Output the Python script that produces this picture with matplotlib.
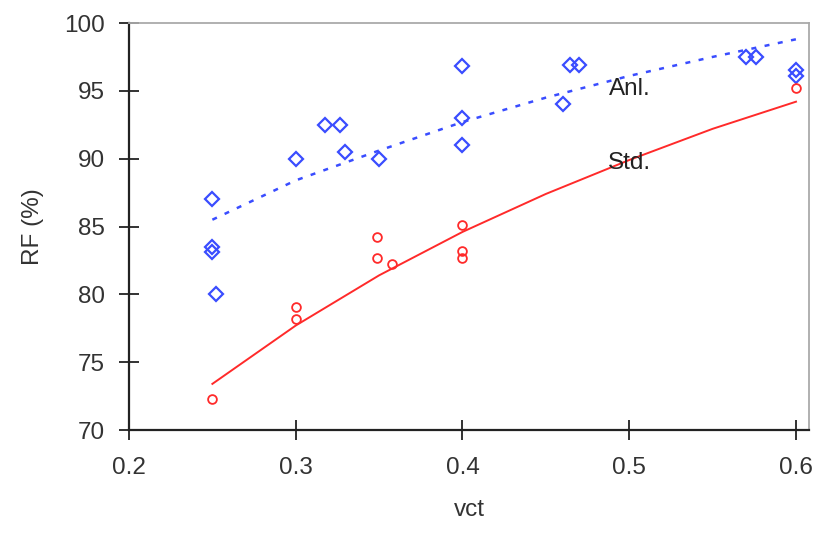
import matplotlib
matplotlib.use("Agg")
import matplotlib.pyplot as plt
from matplotlib import font_manager

# Anl. (blue diamonds)
anl_x = [0.25, 0.25, 0.25, 0.252, 0.30, 0.3175, 0.3265, 0.3295, 0.35, 0.40, 0.40, 0.40,
         0.46, 0.4645, 0.47, 0.57, 0.576, 0.60, 0.60]
anl_y = [87.0, 83.5, 83.1, 80.0, 90.0, 92.5, 92.5, 90.5, 90.0, 96.8, 93.0, 91.0,
         94.0, 96.9, 96.9, 97.5, 97.5, 96.5, 96.1]
# Std. (red circles)
std_x = [0.25, 0.30, 0.30, 0.349, 0.349, 0.358, 0.40, 0.40, 0.40, 0.60]
std_y = [72.3, 79.1, 78.2, 84.2, 82.7, 82.2, 85.1, 83.2, 82.7, 95.2]

# fitted curves
fit_x = [0.25, 0.30, 0.35, 0.40, 0.45, 0.50, 0.55, 0.60]
anl_fit = [85.5, 88.4, 90.6, 92.7, 94.5, 96.1, 97.5, 98.8]
std_fit = [73.4, 77.7, 81.4, 84.6, 87.4, 89.9, 92.2, 94.2]

xticks = [0.2, 0.3, 0.4, 0.5, 0.6]
yticks = [70, 75, 80, 85, 90, 95, 100]

names = {f.name for f in font_manager.fontManager.ttflist}
fam = ['Liberation Sans Narrow'] if 'Liberation Sans Narrow' in names else []
plt.rcParams['font.family'] = fam + ['Liberation Sans', 'DejaVu Sans']
fs = 19 if fam else 17.5

fig = plt.figure(figsize=(8.18, 5.38), dpi=100)
ax = fig.add_axes([129/818, 1-430/538, (809-129)/818, (430-23)/538])

blue = '#3a4dff'
red = '#ff2a2a'
ax.plot(fit_x, anl_fit, color=blue, lw=1.8, linestyle=(0, (2.0, 3.4)), zorder=2)
ax.plot(fit_x, std_fit, color=red, lw=1.4, zorder=2)
ax.plot(anl_x, anl_y, linestyle='none', marker='D', ms=7.3, mfc='none', mec=blue, mew=1.6, zorder=3)
ax.plot(std_x, std_y, linestyle='none', marker='o', ms=6.3, mfc='none', mec=red, mew=1.3, zorder=3)

ax.text(0.488, 95.1, 'Anl.', fontsize=fs, color='#222222', va='center', ha='left')
ax.text(0.487, 89.7, 'Std.', fontsize=fs, color='#222222', va='center', ha='left')

ax.set_xlim(0.2, 0.6078)
ax.set_ylim(70, 100)
ax.set_xticks(xticks)
ax.set_xticklabels(['0.2', '0.3', '0.4', '0.5', '0.6'])
ax.set_yticks(yticks)
ax.set_yticklabels([str(v) for v in yticks])
ax.tick_params(direction='inout', length=15, width=1.3, color='#222222',
               labelsize=fs, labelcolor='#333333')
ax.tick_params(axis='y', pad=10)
ax.tick_params(axis='x', pad=12)

for s in ['left', 'bottom']:
    ax.spines[s].set_color('#222222')
    ax.spines[s].set_linewidth(1.6)
for s in ['top', 'right']:
    ax.spines[s].set_color('#aaaaaa')
    ax.spines[s].set_linewidth(1.3)

ax.set_xlabel('vct', fontsize=fs, color='#333333', labelpad=14)
ax.set_ylabel('RF (%)', fontsize=fs, color='#333333', labelpad=14)

fig.savefig('out.png', dpi=100)
